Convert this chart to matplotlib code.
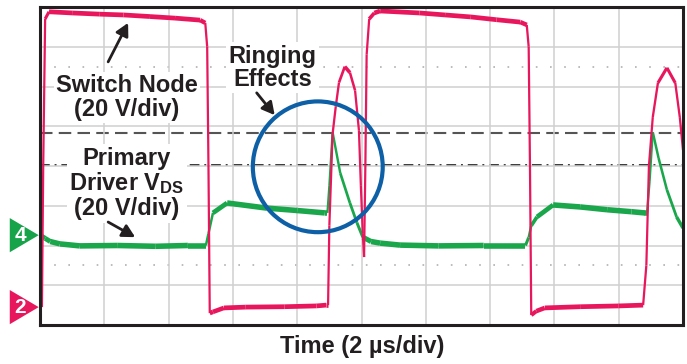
#!/usr/bin/env python3
"""
Scope capture: switch node vs primary driver VDS, ringing effects
"""

import matplotlib
matplotlib.use('Agg')
import matplotlib.pyplot as plt
import numpy as np
from matplotlib.collections import LineCollection
from matplotlib.patches import Ellipse, Polygon

plt.rcParams['font.family'] = ['Liberation Sans', 'DejaVu Sans']
plt.rcParams['mathtext.fontset'] = 'custom'
plt.rcParams['mathtext.rm'] = 'Liberation Sans:bold'
plt.rcParams['mathtext.it'] = 'Liberation Sans:bold'
plt.rcParams['mathtext.bf'] = 'Liberation Sans:bold'

# Screen units: x in divisions (2 us/div), y in divisions (20 V/div)
n_xdiv, n_ydiv = 10, 8

# Channel 4 - primary driver VDS (green)
green_x = [0.0, 0.08, 0.16, 0.31, 0.62, 1.2, 1.8, 2.3, 2.58, 2.62, 2.69, 2.91,
           3.53, 4.0, 4.43, 4.47, 4.50, 4.55, 4.67, 4.82, 4.93, 5.02, 5.15,
           5.29, 5.6, 6.2, 6.9, 7.55, 7.60, 7.64, 7.73, 7.98, 8.4, 8.82, 9.2,
           9.40, 9.44, 9.48, 9.53, 9.62, 9.75, 9.9, 10.0]
green_y = [2.26, 2.18, 2.10, 2.04, 1.99, 2.0, 1.98, 2.0, 2.0, 2.3, 2.82, 3.07,
           2.94, 2.88, 2.82, 2.82, 3.5, 4.85, 3.82, 3.07, 2.57, 2.21, 2.10,
           2.06, 2.01, 1.99, 2.0, 2.0, 2.2, 2.5, 2.72, 3.02, 2.97, 2.90, 2.85,
           2.82, 2.82, 3.6, 4.85, 4.2, 3.4, 2.72, 2.44]

# Channel 2 - switch node (red)
red_x = [0.03, 0.05, 0.08, 0.14, 0.5, 0.93, 1.3, 1.71, 2.1, 2.49, 2.57, 2.60,
         2.62, 2.64, 2.69, 2.86, 3.2, 3.8, 4.3, 4.45, 4.48, 4.50, 4.55, 4.60,
         4.65, 4.74, 4.82, 4.90, 4.96, 4.99, 5.02, 5.04, 5.06, 5.08, 5.12,
         5.2, 5.29, 5.9, 6.3, 6.7, 7.1, 7.47, 7.57, 7.60, 7.62, 7.64, 7.72,
         7.85, 8.4, 9.0, 9.38, 9.43, 9.47, 9.53, 9.61, 9.75, 9.88, 9.95, 10.0]
red_y = [0.45, 4.0, 7.7, 7.88, 7.85, 7.82, 7.8, 7.76, 7.72, 7.67, 7.6, 7.0,
         4.0, 0.3, 0.33, 0.43, 0.45, 0.46, 0.48, 0.5, 0.5, 2.5, 4.8, 5.5,
         6.1, 6.5, 6.35, 5.9, 4.9, 3.5, 2.3, 1.71, 4.0, 6.8, 7.7,
         7.85, 7.9, 7.85, 7.8, 7.75, 7.68, 7.62, 7.55, 7.0, 4.0, 0.25, 0.35,
         0.43, 0.46, 0.48, 0.5, 1.5, 4.0, 5.23, 6.09, 6.47, 6.09, 5.23, 4.4]

channel_labels = ['4', '2']
channel_levels = [2.26, 0.45]
channel_colors = ['#17a34a', '#e8175d']

dashed_level = 4.82
dashdot_level = 4.02
dotted_levels = [6.5, 1.5]

GREEN = '#1aa64b'
RED = '#e8175d'
TEXT = '#231f20'


def trace(ax, xs, ys, color, thick, thin, z):
    # noisy flat parts look wide on the scope, fast edges look thin
    pts = np.column_stack([xs, ys])
    segs = np.stack([pts[:-1], pts[1:]], axis=1)
    dx = np.abs(np.diff(xs)) * 64.3
    dy = np.abs(np.diff(ys)) * 39.75
    slope = dy / (dx + 0.5)
    widths = thin + (thick - thin) / (1 + (slope / 1.2) ** 2)
    lc = LineCollection(segs, colors=color, linewidths=widths,
                        capstyle='butt', joinstyle='round', zorder=z)
    ax.add_collection(lc)


fig = plt.figure(figsize=(6.87, 3.64), dpi=100)
ax = fig.add_axes([40 / 687, 39 / 364, 643 / 687, 318 / 364])
ax.set_xlim(0, n_xdiv)
ax.set_ylim(0, n_ydiv)
ax.set_xticks(range(n_xdiv + 1))
ax.set_yticks(range(n_ydiv + 1))
ax.tick_params(length=0, labelbottom=False, labelleft=False)
ax.grid(True, color='#d0d0d0', linewidth=1.1, zorder=0)
for s in ax.spines.values():
    s.set_linewidth(2.2)
    s.set_color(TEXT)
    s.set_zorder(10)

# cursor / reference lines
ax.axhline(dashed_level, color='#555555', linewidth=1.5,
           linestyle=(0, (6, 3)), zorder=1)
ax.axhline(dashdot_level, color='#3a3a3a', linewidth=1.4,
           linestyle=(0, (5, 2.5, 1, 2.5)), zorder=1)
for lv in dotted_levels:
    ax.axhline(lv, color='#b0b0b0', linewidth=1.2,
               linestyle=(0, (1, 7.5)), zorder=1)

trace(ax, green_x, green_y, GREEN, 4.0, 1.6, 3)
trace(ax, red_x, red_y, RED, 3.4, 1.6, 4)

# ringing highlight
ax.add_patch(Ellipse((4.32, 3.98), 2.02, 3.29, fill=False,
                     edgecolor='#0d5fa6', linewidth=3.0, zorder=6))

# channel markers left of the screen
for lab, lv, col in zip(channel_labels, channel_levels, channel_colors):
    tri = Polygon([[-0.02, lv], [-0.47, lv + 0.43], [-0.47, lv - 0.43]],
                  closed=True, facecolor=col, edgecolor='none',
                  clip_on=False, zorder=5)
    ax.add_patch(tri)
    ax.text(-0.31, lv - 0.02, lab, color='white', fontsize=15,
            fontweight='bold', ha='center', va='center', clip_on=False,
            zorder=6)

box = dict(boxstyle='square,pad=0.1', facecolor='white', edgecolor='none')
ax.text(1.35, 5.72, 'Switch Node\n(20 V/div)', fontsize=17, fontweight='bold',
        color=TEXT, ha='center', va='center', linespacing=1.05, bbox=box,
        zorder=7)
ax.text(1.35, 3.56, 'Primary\nDriver V$_{\\mathrm{DS}}$\n(20 V/div)',
        fontsize=17, fontweight='bold', color=TEXT, ha='center',
        va='center', linespacing=1.05, bbox=box, zorder=7)
ax.text(3.62, 6.47, 'Ringing\nEffects', fontsize=17, fontweight='bold',
        color=TEXT, ha='center', va='center', linespacing=1.0, bbox=box,
        zorder=7)

arrow = dict(arrowstyle='-|>,head_length=0.75,head_width=0.4',
             color=TEXT, linewidth=2.0, shrinkA=0, shrinkB=0)
ax.annotate('', xy=(1.37, 7.6), xytext=(1.06, 6.62), arrowprops=arrow, zorder=8)
ax.annotate('', xy=(3.65, 5.28), xytext=(3.37, 5.84), arrowprops=arrow, zorder=8)
ax.annotate('', xy=(1.48, 2.21), xytext=(1.06, 2.59), arrowprops=arrow, zorder=8)

fig.text(362 / 687, 1 - 347 / 364, 'Time (2 \u00b5s/div)', fontsize=17,
         fontweight='bold', color=TEXT, ha='center', va='center')

fig.savefig('out.png', dpi=100, facecolor='white')
